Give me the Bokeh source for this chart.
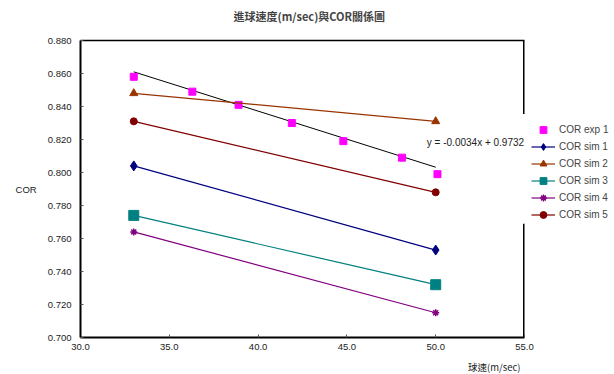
from bokeh.plotting import figure
from bokeh.models import (Range1d, FixedTicker, PrintfTickFormatter, Label, Legend, LegendItem,
                          LinearAxis, Title)
from bokeh.embed import file_html
from bokeh.resources import INLINE

# data
exp_x = [33.0, 36.3, 38.9, 41.9, 44.8, 48.1, 50.1]
exp_y = [0.858, 0.849, 0.841, 0.830, 0.819, 0.809, 0.799]
sim_x = [33.0, 50.0]
sim1 = [0.804, 0.753]
sim2 = [0.848, 0.831]
sim3 = [0.774, 0.732]
sim4 = [0.764, 0.715]
sim5 = [0.831, 0.788]
trend_slope = -0.0034
trend_icpt = 0.9732
x_ticks = [30, 35, 40, 45, 50, 55]
y_ticks = [0.70, 0.72, 0.74, 0.76, 0.78, 0.80, 0.82, 0.84, 0.86, 0.88]

FONT = "Liberation Sans"

p = figure(frame_width=444, frame_height=297, output_backend="svg", toolbar_location=None,
           x_range=Range1d(30, 55), y_range=Range1d(0.70, 0.88),
           min_border_left=80, min_border_right=84, min_border_top=39, min_border_bottom=30,
           title="進球速度(m/sec)與COR關係圖")
p.title.text_font = "Noto Sans CJK TC"
p.title.text_font_style = "bold"
p.title.text_font_size = "11px"
p.title.align = "left"
p.title.offset = 153
p.xgrid.visible = False
p.ygrid.visible = False
p.outline_line_color = None
p.background_fill_color = "white"

for ax in (p.xaxis[0], p.yaxis[0]):
    ax.axis_line_width = 2
    ax.axis_line_color = "black"
    ax.major_tick_in = 3
    ax.major_tick_out = 0
    ax.minor_tick_in = 0
    ax.minor_tick_out = 0
    ax.major_label_text_font = FONT
    ax.major_label_text_font_size = "9.5px"
    ax.major_label_text_color = "#222222"
    ax.major_tick_line_color = "#555555"
p.xaxis.ticker = FixedTicker(ticks=x_ticks)
p.yaxis.ticker = FixedTicker(ticks=y_ticks)
p.xaxis.formatter = PrintfTickFormatter(format="%.1f")
p.yaxis.formatter = PrintfTickFormatter(format="%.3f")
p.xaxis.major_label_standoff = 6
p.yaxis.major_label_standoff = 9

# y axis label, horizontal
p.yaxis.axis_label = "COR"
p.yaxis.axis_label_orientation = "horizontal"
p.yaxis.axis_label_text_font = FONT
p.yaxis.axis_label_text_font_style = "normal"
p.yaxis.axis_label_text_font_size = "9.5px"
p.yaxis.axis_label_text_color = "#222222"
p.yaxis.axis_label_standoff = 8

# top border as a bare axis; its blank label lifts the title
top = LinearAxis(ticker=FixedTicker(ticks=[]), major_label_text_font_size="0px",
                 axis_line_width=1.5, axis_line_color="black", major_tick_in=0, major_tick_out=0,
                 minor_tick_in=0, minor_tick_out=0,
                 axis_label=" ", axis_label_text_font_size="7.5px", axis_label_standoff=0)
p.add_layout(top, "above")

# x axis label, right aligned under the axis
xt = Title(text="球速(m/sec)", align="right", text_font="Noto Sans CJK TC",
           text_font_size="9.5px", text_font_style="normal", text_color="#222222", offset=4)
p.add_layout(xt, "below")

# right border with gap beside the legend
p.segment(x0=[55, 55], y0=[0.88, 0.769], x1=[55, 55], y1=[0.8355, 0.70],
          line_color="black", line_width=3)

# trendline
tx = [sim_x[0], sim_x[1]]
ty = [trend_slope * v + trend_icpt for v in tx]
p.line(tx, ty, line_color="black", line_width=1)

r_exp = p.scatter(exp_x, exp_y, marker="square", size=7, fill_color="#FF00FF", line_color="#FF00FF")

specs = [
    ("COR sim 1", sim1, "#000080", "diamond", 10),
    ("COR sim 2", sim2, "#993300", "triangle", 8),
    ("COR sim 3", sim3, "#008080", "square", 10),
    ("COR sim 4", sim4, "#800080", "asterisk", 7),
    ("COR sim 5", sim5, "#800000", "circle", 7),
]
items = [LegendItem(label="COR exp 1", renderers=[r_exp])]
for name, ys, col, mk, sz in specs:
    rl = p.line(sim_x, ys, line_color=col, line_width=1.2)
    rs = p.scatter(sim_x, ys, marker=mk, size=sz, fill_color=col, line_color=col,
                   line_width=1.5 if mk == "asterisk" else 1)
    items.append(LegendItem(label=name, renderers=[rl, rs]))

# two blank rows to lift the legend above the vertical centre
blank = p.scatter(x=[], y=[], size=0, fill_alpha=0, line_alpha=0)
items.append(LegendItem(label=" ", renderers=[blank]))
items.append(LegendItem(label=" ", renderers=[blank]))

legend = Legend(items=items, location="center_left", margin=7, padding=5, spacing=0,
                glyph_width=24, glyph_height=17, label_height=17, label_standoff=4,
                label_text_font=FONT, label_text_font_size="10px",
                background_fill_color="white", background_fill_alpha=1.0,
                border_line_color=None)
p.add_layout(legend, "right")

p.add_layout(Label(x=49.5, y=0.8182, text="y = -0.0034x + 0.9732", text_font=FONT,
                   text_font_size="10px", text_baseline="middle", text_align="left", text_color="#222222"))

open("out.html", "w").write(file_html(p, INLINE))
